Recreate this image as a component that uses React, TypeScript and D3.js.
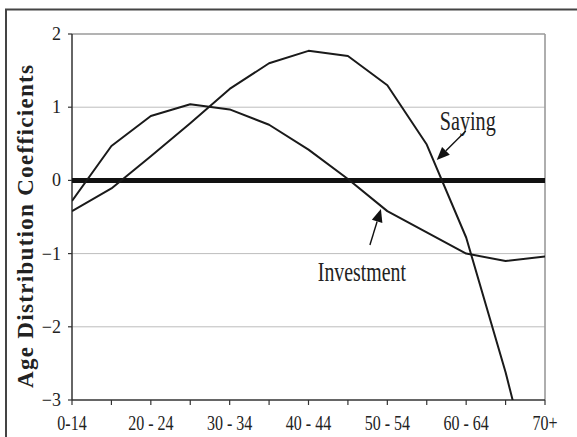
import React from "react";
import * as d3 from "d3";

const categories = ["0-14","15-19","20-24","25-29","30-34","35-39","40-44","45-49","50-54","55-59","60-64","65-69","70+"];
const tickLabels = ["0-14","","20 - 24","","30 - 34","","40 - 44","","50 - 54","","60 - 64","","70+"];
const saving = [-0.42, -0.11, 0.33, 0.78, 1.25, 1.6, 1.77, 1.7, 1.3, 0.49, -0.78, -2.62, -4.75];
const investment = [-0.28, 0.47, 0.88, 1.04, 0.97, 0.76, 0.42, 0.02, -0.42, -0.71, -1.0, -1.1, -1.04];
const yTicks = [2, 1, 0, -1, -2, -3];
const gridValues = [1, -1, -2];

const W = 577, H = 437;
const L = 72, R = 545, T = 34, B = 400;
const SERIF = "Liberation Serif, Times New Roman, serif";

function Arrow({ x1, y1, x2, y2 }: { x1: number; y1: number; x2: number; y2: number }) {
  const dx = x2 - x1, dy = y2 - y1;
  const len = Math.hypot(dx, dy);
  const ux = dx / len, uy = dy / len;
  const hl = 13, hw = 5.5;
  const bx = x2 - ux * hl, by = y2 - uy * hl;
  const px = -uy, py = ux;
  const pts = `${x2},${y2} ${bx + px * hw},${by + py * hw} ${bx - px * hw},${by - py * hw}`;
  return (
    <g>
      <line x1={x1} y1={y1} x2={bx} y2={by} stroke="#111" strokeWidth={1.4} />
      <polygon points={pts} fill="#111" />
    </g>
  );
}

export default function App() {
  const x = d3.scalePoint<string>().domain(categories).range([L, R]);
  const y = d3.scaleLinear().domain([-3, 2]).range([B, T]);
  const line = d3.line<number>().x((_, i) => x(categories[i]) as number).y((d) => y(d));
  const fmt = (v: number) => (v < 0 ? "\u2212" + Math.abs(v) : String(v));

  const sayX = x("55-59") as number;
  const invX = x("45-49") as number;

  return (
    <svg width={W} height={H} viewBox={`0 0 ${W} ${H}`} style={{ position: "absolute", left: 0, top: 0, background: "#fff", display: "block" }}>
      <defs>
        <clipPath id="plotclip">
          <rect x={L} y={T - 5} width={R - L} height={B - T + 5} />
        </clipPath>
      </defs>

      {gridValues.map((v) => (
        <line key={v} x1={L} x2={R} y1={y(v)} y2={y(v)} stroke="#bdbdbd" strokeWidth={1} />
      ))}
      <line x1={L} x2={R} y1={T} y2={T} stroke="#9a9a9a" strokeWidth={1.6} />
      <line x1={R} x2={R} y1={T} y2={B} stroke="#9a9a9a" strokeWidth={1.6} />
      <line x1={L} x2={L} y1={T} y2={B} stroke="#333" strokeWidth={1.5} />
      <line x1={L} x2={R} y1={B} y2={B} stroke="#333" strokeWidth={1.5} />

      {yTicks.map((v) => (
        <g key={v}>
          <line x1={L - 4} x2={L} y1={y(v)} y2={y(v)} stroke="#333" strokeWidth={1.2} />
          <text x={61} y={y(v) + 6} textAnchor="end" fontSize={18} fill="#222" fontFamily={SERIF}>{fmt(v)}</text>
        </g>
      ))}

      {categories.map((c, i) => (
        <g key={c}>
          <line x1={x(c)} x2={x(c)} y1={B} y2={B + 5} stroke="#333" strokeWidth={1.2} />
          {tickLabels[i] && (
            <g transform={`translate(${x(c)},430) scale(0.8,1)`}>
              <text x={0} y={0} textAnchor="middle" fontSize={20} fill="#222" fontFamily={SERIF}>{tickLabels[i]}</text>
            </g>
          )}
        </g>
      ))}

      <line x1={L} x2={R} y1={y(0)} y2={y(0)} stroke="#111" strokeWidth={5} />

      <g clipPath="url(#plotclip)">
        <path d={line(saving) || ""} fill="none" stroke="#1a1a1a" strokeWidth={2} strokeLinejoin="round" />
        <path d={line(investment) || ""} fill="none" stroke="#1a1a1a" strokeWidth={2} strokeLinejoin="round" />
      </g>

      <g transform={`translate(${sayX + 41},130) scale(0.72,1)`}>
        <text x={0} y={0} textAnchor="middle" fontSize={28} fill="#222" fontFamily={SERIF}>Saying</text>
      </g>
      <Arrow x1={sayX + 39} y1={131} x2={sayX + 10} y2={160} />

      <g transform={`translate(${invX + 14},281) scale(0.71,1)`}>
        <text x={0} y={0} textAnchor="middle" fontSize={28} fill="#222" fontFamily={SERIF}>Investment</text>
      </g>
      <Arrow x1={invX + 22} y1={245} x2={invX + 33} y2={209} />

      <text transform={`translate(33,226.5) rotate(-90)`} textAnchor="middle" fontSize={23} fontWeight="bold" fill="#222" fontFamily={SERIF} textLength={323} lengthAdjust="spacing">Age Distribution Coefficients</text>

      <path d={`M6,${H} L6,9.5 L${W},9.5`} fill="none" stroke="#444" strokeWidth={2} />
    </svg>
  );
}
